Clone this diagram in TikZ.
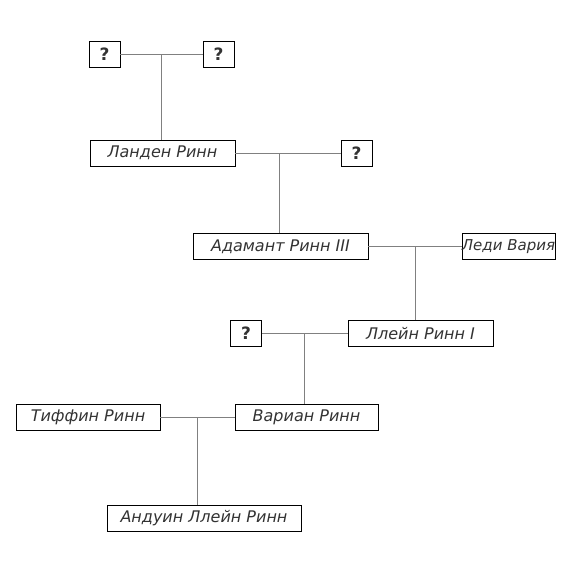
\documentclass[tikz,border=0pt]{standalone}
\usepackage{fontspec}
\setmainfont{DejaVu Sans}
\usetikzlibrary{calc}
\tikzset{
  person/.style={draw, line width=0.8pt, minimum height=26pt, inner sep=0pt, fill=white,
    font=\itshape\fontsize{16}{16}\selectfont, text=black!80},
  unknown/.style={person, minimum width=31pt, font=\bfseries\fontsize{17}{17}\selectfont},
  link/.style={draw=black!50, line width=0.8pt},
}
\begin{document}
\begin{tikzpicture}[x=1pt, y=-1pt]
    \useasboundingbox (0,0) rectangle (574,573);

    % Parents of Landen
    \node[unknown] (q1) at (104.5,54.5) {?};
    \node[unknown] (q2) at (218.5,54.5) {?};

    % Landen and his wife
    \node[person, minimum width=145pt] (landen) at (162.5,153) {Ланден Ринн};
    \node[unknown] (q3) at (356.5,153) {?};

    % Adamant and Varia
    \node[person, minimum width=175pt] (adamant) at (280.5,246.5) {Адамант Ринн III};
    \node[person, minimum width=93pt, font=\itshape\fontsize{15}{15}\selectfont] (varia) at (508.5,246.5) {Леди Вария};

    % Llane and his wife
    \node[unknown] (q4) at (246,333.5) {?};
    \node[person, minimum width=145pt] (llane) at (420.5,333.5) {Ллейн Ринн I};

    % Varian and Tiffin
    \node[person, minimum width=144pt] (tiffin) at (88,417.5) {Тиффин Ринн};
    \node[person, minimum width=143pt] (varian) at (306.5,417.5) {Вариан Ринн};

    % Anduin
    \node[person, minimum width=194pt] (anduin) at (204,518) {Андуин Ллейн Ринн};

    % Marriages and descent
    \draw[link] (q1) -- (q2);
    \coordinate (m1) at ($(q1.east)!0.5!(q2.west)$);
    \draw[link] (m1) -- (m1 |- landen.north);

    \draw[link] (landen) -- (q3);
    \coordinate (m2) at ($(landen.east)!0.415!(q3.west)$);
    \draw[link] (m2) -- (m2 |- adamant.north);

    \draw[link] (adamant) -- (varia);
    \coordinate (m3) at ($(adamant.east)!0.5!(varia.west)$);
    \draw[link] (m3) -- (m3 |- llane.north);

    \draw[link] (q4) -- (llane);
    \coordinate (m4) at ($(q4.east)!0.5!(llane.west)$);
    \draw[link] (m4) -- (m4 |- varian.north);

    \draw[link] (tiffin) -- (varian);
    \coordinate (m5) at ($(tiffin.east)!0.5!(varian.west)$);
    \draw[link] (m5) -- (m5 |- anduin.north);
\end{tikzpicture}
\end{document}
